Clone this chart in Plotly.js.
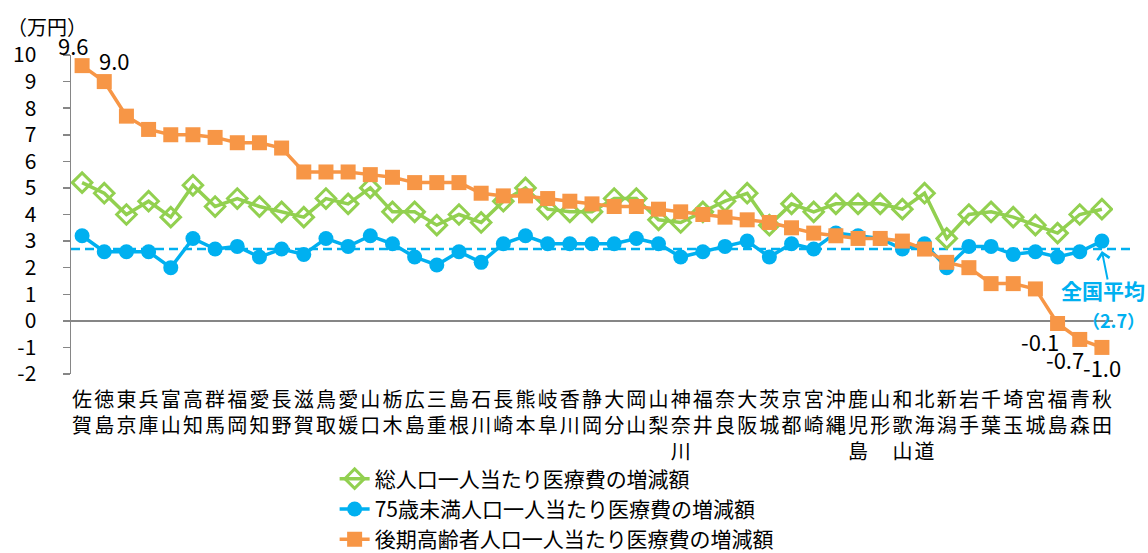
<!DOCTYPE html>
<html>
<head>
<meta charset="utf-8">
<script src="https://cdn.plot.ly/plotly-3.0.1.min.js"></script>
<style>html,body{margin:0;padding:0;background:#fff;}#chart{width:1148px;height:553px;}</style>
</head>
<body>
<div id="chart"></div>
<script>
const prefectures = ["佐賀","徳島","東京","兵庫","富山","高知","群馬","福岡","愛知","長野","滋賀","鳥取","愛媛","山口","栃木","広島","三重","島根","石川","長崎","熊本","岐阜","香川","静岡","大分","岡山","山梨","神奈川","福井","奈良","大阪","茨城","京都","宮崎","沖縄","鹿児島","山形","和歌山","北海道","新潟","岩手","千葉","埼玉","宮城","福島","青森","秋田"];
const totalPerCapita = [5.2,4.8,4.0,4.5,3.9,5.1,4.3,4.6,4.3,4.1, 3.9,4.6,4.4,5.0,4.1,4.1,3.6,4.0,3.7,4.5, 5.0,4.2,4.1,4.1,4.6,4.6,3.8,3.7,4.1,4.5, 4.8,3.6,4.4,4.1,4.4,4.4,4.4,4.2,4.8,3.1, 4.0,4.1,3.9,3.6,3.3,4.0,4.2];
const under75PerCapita = [3.2,2.6,2.6,2.6,2.0,3.1,2.7,2.8,2.4,2.7, 2.5,3.1,2.8,3.2,2.9,2.4,2.1,2.6,2.2,2.9, 3.2,2.9,2.9,2.9,2.9,3.1,2.9,2.4,2.6,2.8, 3.0,2.4,2.9,2.7,3.3,3.2,3.1,2.7,2.9,2.0, 2.8,2.8,2.5,2.6,2.4,2.6,3.0];
const elderlyPerCapita = [9.6,9.0,7.7,7.2,7.0,7.0,6.9,6.7,6.7,6.5, 5.6,5.6,5.6,5.5,5.4,5.2,5.2,5.2,4.8,4.7, 4.7,4.6,4.5,4.4,4.3,4.3,4.2,4.1,4.0,3.9, 3.8,3.7,3.5,3.3,3.2,3.1,3.1,3.0,2.7,2.2, 2.0,1.4,1.4,1.2,-0.1,-0.7,-1.0];
const seriesNames = ["総人口一人当たり医療費の増減額","75歳未満人口一人当たり医療費の増減額","後期高齢者人口一人当たり医療費の増減額"];
const nationalAverage = 2.7;
const yTicks = [-2,-1,0,1,2,3,4,5,6,7,8,9,10];
const labeledPoints = [0,1,44,45,46];

const FONT = '"Noto Sans CJK JP", "Noto Sans", sans-serif';
const GREEN = '#92D050', BLUE = '#00B0F0', ORANGE = '#F79646', GRAY = '#868686';

const tickText = prefectures.map(p => Array.from(p).join('<br>'));

const traces = [
  {x: prefectures, y: totalPerCapita, name: seriesNames[0], type: 'scatter', mode: 'lines+markers',
   line: {color: GREEN, width: 3.5}, marker: {symbol: 'diamond-open', size: 15, color: GREEN, line: {width: 3, color: GREEN}}},
  {x: prefectures, y: under75PerCapita, name: seriesNames[1], type: 'scatter', mode: 'lines+markers',
   line: {color: BLUE, width: 3.5}, marker: {symbol: 'circle', size: 15, color: BLUE}},
  {x: prefectures, y: elderlyPerCapita, name: seriesNames[2], type: 'scatter', mode: 'lines+markers',
   line: {color: ORANGE, width: 3.5}, marker: {symbol: 'square', size: 15, color: ORANGE}}
];

const shiftMap = {0: [-9, 21], 1: [10, 22], 44: [-18, -18], 45: [-15, -20], 46: [0, -20]};
const annotations = labeledPoints.map(i => ({
  x: prefectures[i], y: elderlyPerCapita[i], xref: 'x', yref: 'y',
  text: elderlyPerCapita[i].toFixed(1), showarrow: false,
  xshift: shiftMap[i][0], yshift: shiftMap[i][1],
  font: {family: FONT, size: 22, color: '#000'}
}));
annotations.push({xref: 'paper', yref: 'paper', x: -0.0633, y: 1.088, text: '（万円）', showarrow: false,
  font: {family: FONT, size: 20, color: '#000'}, xanchor: 'left', yanchor: 'middle'});
annotations.push({xref: 'x', yref: 'y', x: prefectures[prefectures.length-1], y: nationalAverage,
  text: '', showarrow: true, arrowhead: 4, arrowsize: 1.2, arrowwidth: 2, arrowcolor: BLUE,
  ax: 6, ay: 30, xshift: 0, yshift: -2});
annotations.push({xref: 'paper', yref: 'paper', x: 1.0326, y: 0.263, text: '<b>全国平均</b>', showarrow: false,
  font: {family: FONT, size: 21, color: BLUE}, xanchor: 'right', yanchor: 'middle'});
annotations.push({xref: 'paper', yref: 'paper', x: 1.0326, y: 0.169, text: '<b>（' + nationalAverage.toFixed(1) + '）</b>', showarrow: false,
  font: {family: FONT, size: 18, color: BLUE}, xanchor: 'right', yanchor: 'middle'});

const layout = {
  width: 1148, height: 553,
  margin: {l: 71, r: 35, t: 55, b: 179, autoexpand: false},
  paper_bgcolor: '#fff', plot_bgcolor: '#fff',
  font: {family: FONT, size: 20, color: '#000'},
  showlegend: true,
  legend: {x: 0.253, xanchor: 'left', y: -0.265, yanchor: 'top', orientation: 'v',
    font: {family: FONT, size: 21, color: '#000'}, bgcolor: 'rgba(0,0,0,0)', tracegroupgap: 0},
  xaxis: {type: 'category', range: [-0.5, prefectures.length - 0.5], tickmode: 'array', automargin: false,
    tickvals: prefectures, ticktext: tickText, showgrid: false, zeroline: false, showline: false,
    ticks: '', tickangle: 0, ticklabelstandoff: 12, tickfont: {family: FONT, size: 20, color: '#000'}, fixedrange: true},
  yaxis: {range: [-2, 10], tickmode: 'array', tickvals: yTicks, ticktext: yTicks.map(String), automargin: false,
    showgrid: false, zeroline: true, zerolinecolor: GRAY, zerolinewidth: 1.5,
    showline: true, linecolor: GRAY, linewidth: 1.5, ticks: 'outside', ticklen: 7, tickcolor: GRAY, tickwidth: 1.5,
    ticklabelstandoff: 22, tickfont: {family: FONT, size: 21, color: '#000'}, fixedrange: true},
  shapes: [{type: 'line', xref: 'paper', yref: 'y', x0: 0, x1: 1.021, y0: nationalAverage, y1: nationalAverage,
    line: {color: BLUE, width: 2.5, dash: '9px,5px'}, layer: 'below'}],
  annotations: annotations
};

Plotly.newPlot('chart', traces, layout, {displayModeBar: false, staticPlot: true});
</script>
</body>
</html>
